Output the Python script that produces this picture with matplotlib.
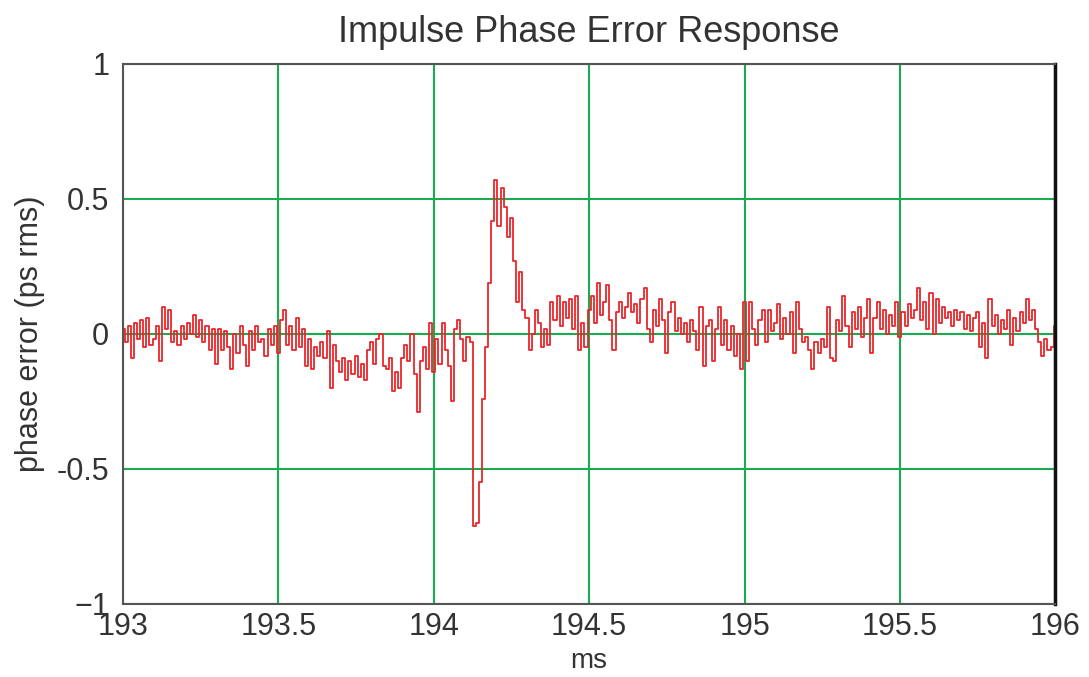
import numpy as np
import matplotlib.pyplot as plt

# time axis, ms (sampled every 0.01 ms)
t_start = 193.0
t_step = 0.01

# phase error, ps rms (10 samples per 0.1 ms)
phase_err = [
    0.02, -0.03, 0.03, -0.09, 0.04, -0.02, 0.05, -0.05, 0.06, -0.04,
    -0.02, 0.03, -0.10, 0.10, 0.02, 0.09, -0.03, 0.01, -0.04, 0.03,
    -0.02, 0.04, 0.00, 0.07, -0.01, 0.05, -0.03, 0.03, -0.06, 0.02,
    -0.11, 0.02, -0.06, 0.01, -0.05, -0.13, 0.00, -0.07, 0.03, -0.04,
    -0.12, 0.01, -0.06, 0.03, -0.03, -0.02, -0.08, 0.02, -0.04, 0.03,
    -0.07, 0.05, 0.09, -0.04, 0.03, -0.06, 0.06, -0.05, 0.02, -0.12,
    -0.02, -0.13, -0.05, -0.08, -0.03, -0.09, 0.01, -0.20, -0.04, -0.10,
    -0.14, -0.09, -0.17, -0.10, -0.15, -0.08, -0.16, -0.11, -0.17, -0.06,
    -0.03, -0.11, -0.02, 0.00, -0.12, -0.13, -0.09, -0.21, -0.14, -0.20,
    -0.09, -0.04, -0.10, 0.00, -0.15, -0.29, -0.10, -0.05, -0.13, 0.04,
    -0.14, -0.02, -0.11, 0.04, -0.06, -0.12, -0.25, 0.02, 0.05, -0.02,
    -0.10, -0.01, -0.03, -0.71, -0.70, -0.55, -0.24, -0.05, 0.19, 0.42,
    0.57, 0.40, 0.54, 0.47, 0.36, 0.43, 0.27, 0.12, 0.23, 0.09,
    0.06, -0.06, 0.00, 0.09, 0.04, -0.05, 0.02, -0.04, 0.12, 0.05,
    0.14, 0.03, 0.12, 0.06, 0.13, 0.02, 0.14, -0.06, 0.04, -0.05,
    0.09, 0.14, 0.04, 0.19, 0.07, 0.12, 0.18, 0.05, -0.06, 0.08,
    0.12, 0.06, 0.10, 0.15, 0.08, 0.11, 0.04, 0.13, 0.17, 0.02,
    -0.03, 0.09, 0.03, 0.13, 0.05, -0.07, 0.08, 0.12, 0.01, 0.06,
    0.00, 0.04, -0.03, 0.05, 0.01, -0.06, 0.10, -0.12, 0.03, 0.05,
    -0.10, 0.02, 0.10, -0.04, 0.05, -0.06, 0.03, -0.08, 0.00, -0.13,
    0.12, -0.10, 0.12, 0.02, -0.04, 0.05, 0.09, -0.03, 0.09, 0.01,
    0.04, 0.11, -0.02, 0.06, 0.00, 0.08, -0.07, 0.12, 0.02, -0.03,
    -0.01, -0.06, -0.13, -0.03, -0.07, -0.02, -0.05, 0.10, -0.09, -0.10,
    0.05, 0.01, 0.14, 0.03, -0.05, 0.08, 0.02, 0.10, -0.01, 0.06,
    0.13, -0.07, 0.06, 0.12, 0.02, 0.09, 0.00, 0.07, 0.03, 0.12,
    -0.01, 0.08, 0.03, 0.11, 0.06, 0.09, 0.17, 0.05, 0.12, 0.02,
    0.15, 0.00, 0.13, 0.04, 0.10, 0.06, 0.08, 0.03, 0.09, 0.05,
    0.08, 0.02, 0.07, 0.01, 0.06, 0.08, -0.05, 0.04, -0.09, 0.13,
    0.03, 0.07, 0.00, 0.05, 0.02, 0.09, -0.04, 0.06, 0.01, 0.08,
    0.04, 0.13, 0.05, 0.09, 0.02, -0.03, -0.08, -0.02, -0.06, -0.05,
    0.03,
]

x_ticks = [193, 193.5, 194, 194.5, 195, 195.5, 196]
x_labels = ["193", "193.5", "194", "194.5", "195", "195.5", "196"]
y_ticks = [-1, -0.5, 0, 0.5, 1]
y_labels = ["\u22121", "-0.5", "0", "0.5", "1"]

plt.rcParams['font.family'] = ['Liberation Sans', 'DejaVu Sans']

t = t_start + t_step * np.arange(len(phase_err))

fig = plt.figure(figsize=(10.89, 6.77), dpi=100)
ax = fig.add_axes([0.113, 0.108, 0.856, 0.7975])

# step drawing gives the blocky look of the scope trace
ax.plot(t, phase_err, color='#e8262b', lw=1.3, drawstyle='steps-mid')

ax.set_xlim(193, 196)
ax.set_ylim(-1, 1)
ax.set_xticks(x_ticks)
ax.set_xticklabels(x_labels)
ax.set_yticks(y_ticks)
ax.set_yticklabels(y_labels)
ax.tick_params(axis='x', length=0, labelsize=22, colors='#333333', pad=6)
ax.tick_params(axis='y', length=0, labelsize=22, colors='#333333', pad=10)
ax.grid(True, color='#1aaa50', lw=1.5)
ax.set_axisbelow(True)

for side in ['left', 'bottom', 'top']:
    ax.spines[side].set_color('#555555')
    ax.spines[side].set_linewidth(1.5)
ax.spines['right'].set_color('#111111')
ax.spines['right'].set_linewidth(2.5)

ax.set_title("Impulse Phase Error Response", fontsize=26, color='#333333', pad=16)
ax.set_xlabel("ms", fontsize=20, color='#333333', labelpad=4)
ax.set_ylabel("phase error (ps rms)", fontsize=22, color='#333333', labelpad=8)

fig.savefig("out.png", dpi=100)
